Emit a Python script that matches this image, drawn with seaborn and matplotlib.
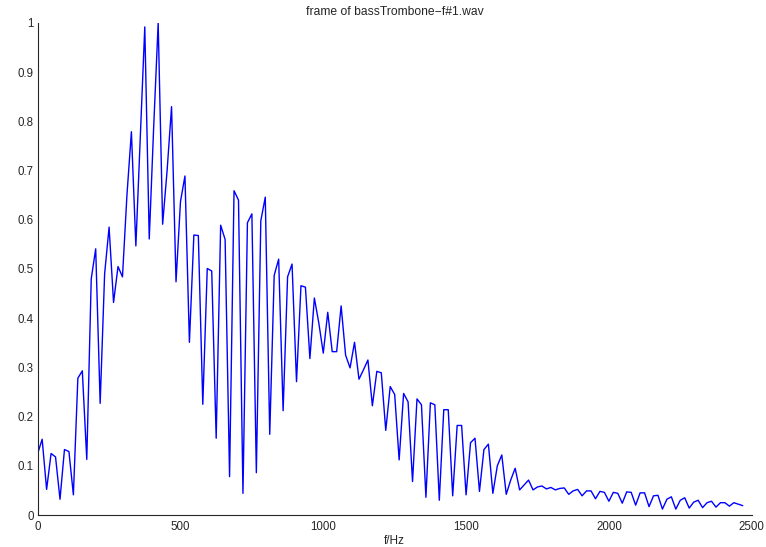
import numpy as np
import pandas as pd
import matplotlib
matplotlib.use("Agg")
import matplotlib.pyplot as plt
import seaborn as sns

# Normalised magnitude spectrum of one analysis frame, one value per FFT bin
bin_hz = 15.625
magnitude = [
    0.125, 0.154, 0.052, 0.125, 0.118, 0.032, 0.133, 0.129, 0.041, 0.278,
    0.293, 0.113, 0.480, 0.541, 0.227, 0.490, 0.585, 0.432, 0.505, 0.484,
    0.650, 0.779, 0.547, 0.770, 0.992, 0.561, 0.790, 1.000, 0.591, 0.700,
    0.830, 0.474, 0.637, 0.689, 0.351, 0.569, 0.568, 0.225, 0.501, 0.496,
    0.156, 0.589, 0.560, 0.078, 0.659, 0.640, 0.044, 0.594, 0.612, 0.086,
    0.598, 0.646, 0.164, 0.487, 0.520, 0.212, 0.484, 0.510, 0.271, 0.466,
    0.463, 0.318, 0.441, 0.390, 0.329, 0.412, 0.332, 0.332, 0.425, 0.325,
    0.299, 0.351, 0.276, 0.295, 0.315, 0.222, 0.292, 0.289, 0.172, 0.261,
    0.245, 0.112, 0.247, 0.230, 0.068, 0.236, 0.224, 0.036, 0.228, 0.224,
    0.030, 0.214, 0.214, 0.039, 0.182, 0.182, 0.041, 0.147, 0.156, 0.048,
    0.133, 0.144, 0.044, 0.100, 0.122, 0.042, 0.071, 0.095, 0.051, 0.061,
    0.071, 0.051, 0.057, 0.059, 0.053, 0.056, 0.051, 0.054, 0.055, 0.042,
    0.049, 0.052, 0.039, 0.049, 0.049, 0.033, 0.048, 0.046, 0.028, 0.046,
    0.044, 0.024, 0.047, 0.046, 0.020, 0.045, 0.045, 0.017, 0.039, 0.040,
    0.012, 0.032, 0.037, 0.012, 0.030, 0.035, 0.014, 0.026, 0.030, 0.015,
    0.025, 0.028, 0.016, 0.025, 0.025, 0.018, 0.025, 0.022, 0.019,
]
x_ticks = [0, 500, 1000, 1500, 2000, 2500]
y_ticks = [0, 0.1, 0.2, 0.3, 0.4, 0.5, 0.6, 0.7, 0.8, 0.9, 1]
y_tick_labels = ["0", "0.1", "0.2", "0.3", "0.4", "0.5", "0.6", "0.7", "0.8", "0.9", "1"]
title = "frame of bassTrombone\u2212f#1.wav"
x_label = "f/Hz"

df = pd.DataFrame({
    "f": np.arange(len(magnitude)) * bin_hz,
    "mag": magnitude,
})

sns.set_theme(style="white")
plt.rcParams["font.family"] = ["Liberation Sans", "DejaVu Sans"]

fig = plt.figure(figsize=(7.66, 5.47), dpi=100)
ax = fig.add_axes([0.0492, 0.0585, 0.9321, 0.8995])

sns.lineplot(data=df, x="f", y="mag", ax=ax, color="#0000ff",
             linewidth=1.0, estimator=None, sort=False)

ax.set_xlim(0, 2500)
ax.set_ylim(0, 1)
ax.set_xticks(x_ticks)
ax.set_xticklabels([str(t) for t in x_ticks])
ax.set_yticks(y_ticks)
ax.set_yticklabels(y_tick_labels)

for side in ("top", "right"):
    ax.spines[side].set_visible(False)
for side in ("left", "bottom"):
    ax.spines[side].set_color("#262626")
    ax.spines[side].set_linewidth(0.8)

ax.tick_params(axis="both", direction="in", length=5, width=0.8,
               colors="#262626", labelsize=8.3, pad=3)
ax.tick_params(axis="x", pad=4)

ax.set_xlabel(x_label, fontsize=8.5, color="#262626", labelpad=2)
ax.set_ylabel("")
ax.set_title(title, fontsize=8.7, color="#262626", pad=6)

fig.savefig("out.png", dpi=100, facecolor="white")
